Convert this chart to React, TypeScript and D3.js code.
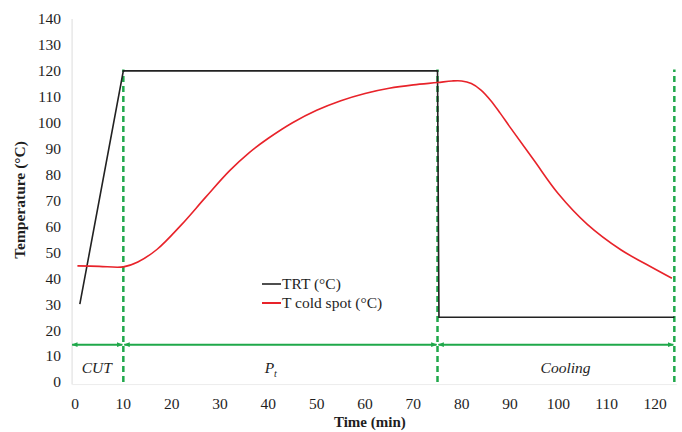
import React from "react";
import * as d3 from "d3";

const yTicks = [0, 10, 20, 30, 40, 50, 60, 70, 80, 90, 100, 110, 120, 130, 140];
const xTicks = [0, 10, 20, 30, 40, 50, 60, 70, 80, 90, 100, 110, 120];

const trtTime = [1, 10, 75, 75.3, 124];
const trtTemp = [30, 120, 120, 25, 25];

const coldTime = [0.5, 5, 10, 13, 17, 22, 27, 32, 36, 40, 45, 50, 55, 60, 65, 70, 75, 78, 80, 82, 84, 86, 88, 90, 95, 100, 106, 113, 118, 123.5];
const coldTemp = [44.8, 44.6, 44.4, 46.3, 51.2, 60.6, 71.2, 81.5, 88.4, 94, 100, 104.8, 108.5, 111.3, 113.3, 114.6, 115.5, 116.1, 116.1, 115.1, 112.6, 108.6, 103.6, 98.3, 85.4, 72.6, 60.8, 50.9, 45.6, 40];

const phaseBounds = [0, 10, 75, 124];
const phaseNames = ["CUT", "P", "Cooling"];
const phaseLabelTime = [4.5, 40.5, 101.5];
const arrowLevel = 14.4;
const dashedTop = 120.5;

const W = 682, H = 432;
const M = { left: 75, right: 655, top: 19, bottom: 382 };

export default function App() {
  const x = d3.scaleLinear().domain([0, 120]).range([M.left, M.right]);
  const y = d3.scaleLinear().domain([0, 140]).range([M.bottom, M.top]);
  const line = d3.line<[number, number]>().x(d => x(d[0])).y(d => y(d[1]));
  const smooth = d3.line<[number, number]>().x(d => x(d[0])).y(d => y(d[1])).curve(d3.curveCatmullRom.alpha(0.5));
  const trt = trtTime.map((t, i) => [t, trtTemp[i]] as [number, number]);
  const cold = coldTime.map((t, i) => [t, coldTemp[i]] as [number, number]);
  const green = "#1fa84a";
  const font = "'Liberation Serif', 'Times New Roman', 'DejaVu Serif', serif";
  const plotLeft = x(-0.6);
  const plotBottom = y(-1);
  const txt = "#1e1e1e";

  return (
    <svg width={W} height={H} style={{ position: "absolute", left: 0, top: 0, background: "#fff" }} fontFamily={font}>
      <defs>
        <marker id="ah" viewBox="0 0 10 10" refX="9" refY="5" markerWidth="6" markerHeight="6" orient="auto-start-reverse" markerUnits="userSpaceOnUse">
          <path d="M0,1 L10,5 L0,9 z" fill={green} />
        </marker>
      </defs>
      <line x1={plotLeft} x2={plotLeft} y1={y(140)} y2={plotBottom} stroke="#e2e2e2" strokeWidth={1.2} />
      <line x1={plotLeft} x2={x(124.5)} y1={plotBottom} y2={plotBottom} stroke="#ececec" strokeWidth={1} />
      {yTicks.map(v => (
        <text key={"y" + v} x={61} y={y(v)} dy="0.35em" textAnchor="end" fontSize={15.5} fill={txt} fontFamily={font}>{v}</text>
      ))}
      {xTicks.map(v => (
        <text key={"x" + v} x={x(v)} y={409} textAnchor="middle" fontSize={15.5} fill={txt} fontFamily={font}>{v}</text>
      ))}
      <text x={x(61)} y={427} textAnchor="middle" fontSize={15} fontWeight="bold" fill={txt} fontFamily={font}>Time (min)</text>
      <text transform={`translate(25,${200}) rotate(-90)`} textAnchor="middle" fontSize={15.5} fontWeight="bold" fill={txt} fontFamily={font}>Temperature (°C)</text>
      {phaseBounds.slice(0, -1).map((b, i) => (
        <line key={"a" + i} x1={i === 0 ? plotLeft : x(b) + 1} x2={x(phaseBounds[i + 1]) - 1} y1={y(arrowLevel)} y2={y(arrowLevel)}
          stroke={green} strokeWidth={2} markerStart="url(#ah)" markerEnd="url(#ah)" />
      ))}
      {phaseBounds.slice(1).map((b, i) => (
        <line key={"d" + i} x1={x(b)} x2={x(b)} y1={y(0)} y2={y(dashedTop)} stroke={green} strokeWidth={2.5} strokeDasharray="6,4" />
      ))}
      <text x={x(phaseLabelTime[0])} y={373} textAnchor="middle" fontSize={15.5} fontStyle="italic" fill={txt} fontFamily={font}>{phaseNames[0]}</text>
      <text x={x(phaseLabelTime[1])} y={373} textAnchor="middle" fontSize={15.5} fontStyle="italic" fill={txt} fontFamily={font}>{phaseNames[1]}<tspan fontSize={10} dy={4}>t</tspan></text>
      <text x={x(phaseLabelTime[2])} y={373} textAnchor="middle" fontSize={15.5} fontStyle="italic" fill={txt} fontFamily={font}>{phaseNames[2]}</text>
      <path d={line(trt) || ""} fill="none" stroke="#222" strokeWidth={1.6} />
      <path d={smooth(cold) || ""} fill="none" stroke="#e8232a" strokeWidth={1.6} />
      <line x1={262} x2={281} y1={284} y2={284} stroke="#222" strokeWidth={1.6} />
      <text x={282} y={284} dy="0.35em" fontSize={15.5} fill={txt} fontFamily={font}>TRT (°C)</text>
      <line x1={262} x2={281} y1={303} y2={303} stroke="#e8232a" strokeWidth={2} />
      <text x={282} y={303} dy="0.35em" fontSize={15.5} fill={txt} fontFamily={font}>T cold spot (°C)</text>
    </svg>
  );
}
